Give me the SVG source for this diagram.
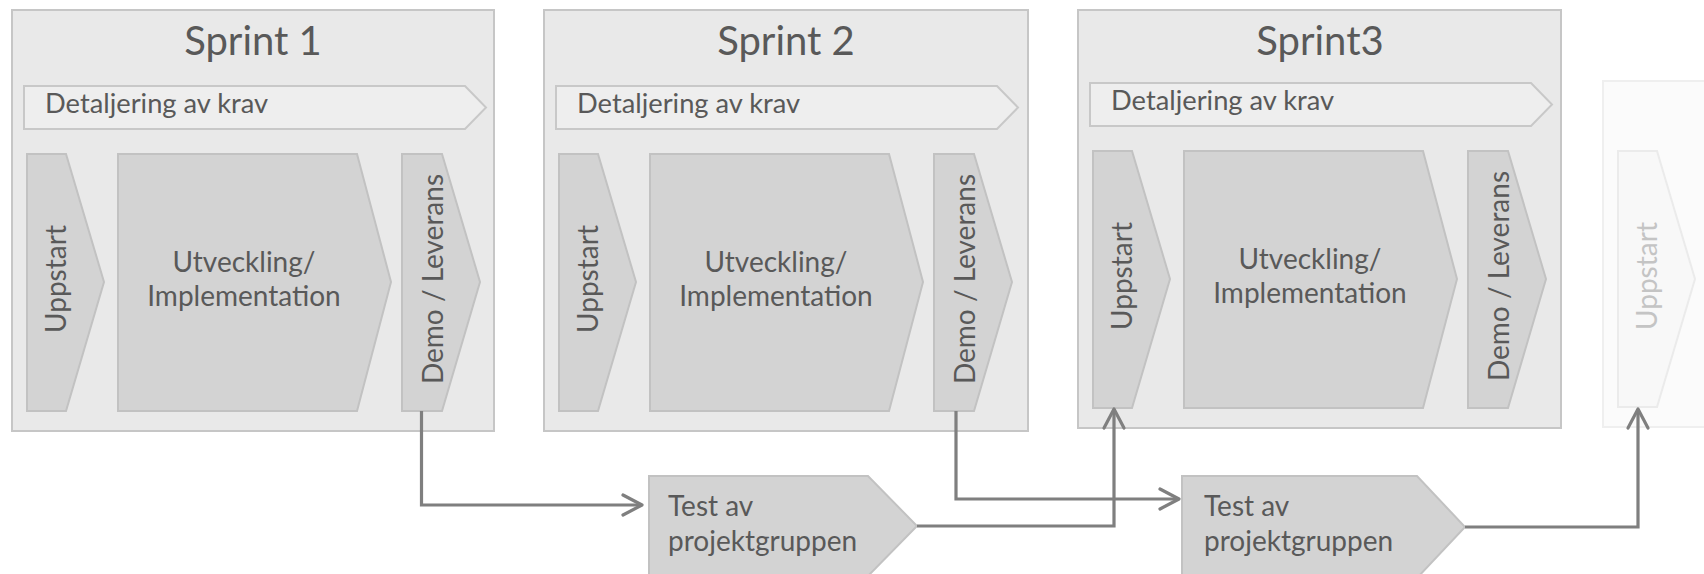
<svg xmlns="http://www.w3.org/2000/svg" width="1704" height="574" viewBox="0 0 1704 574">
<style>
.box{fill:#e9e9e9;stroke:#c6c6c6;stroke-width:2}
.req{fill:#eeeeee;stroke:#c8c8c8;stroke-width:2}
.chev{fill:#d3d3d3;stroke:#c2c2c2;stroke-width:2}
.fbox{fill:#fbfbfb;stroke:#efefef;stroke-width:2}
.fchev{fill:#f8f8f8;stroke:#ebebeb;stroke-width:2}
text{font-family:Lato,"Liberation Sans",sans-serif;fill:#595959;font-size:28px}
.title{font-size:40px;text-anchor:middle}
.reqt{font-size:27.3px}
.mid{text-anchor:middle}
.ftxt{fill:#c4c4c4}
.conn{fill:none;stroke:#7f7f7f;stroke-width:3.2;stroke-linejoin:miter}
</style>
<defs>
<marker id="arr" markerUnits="userSpaceOnUse" markerWidth="26" markerHeight="26" viewBox="0 0 26 26" refX="22" refY="13" orient="auto">
<path d="M3,3 L22,13 L3,23" fill="none" stroke="#7f7f7f" stroke-width="3.2" stroke-linecap="round" stroke-linejoin="round"/>
</marker>
<g id="inner">
<polygon class="req" points="24,86 465,86 486,107.5 465,129 24,129"/>
<text x="45" y="113" class="reqt">Detaljering av krav</text>
<polygon class="chev" points="27,154 66,154 104,282 66,411 27,411"/>
<text transform="translate(66,279) rotate(-90)" class="mid">Uppstart</text>
<polygon class="chev" points="118,154 357,154 391,282 357,411 118,411"/>
<text x="244" y="272" class="mid">Utveckling/</text>
<text x="244" y="306" class="mid">Implementation</text>
<polygon class="chev" points="402,154 442,154 480,282 442,411 402,411"/>
<text transform="translate(443,279) rotate(-90)" class="mid">Demo / Leverans</text>
</g>
</defs>

<g id="sprint1">
<rect class="box" x="12" y="10" width="482" height="421"/>
<text x="253" y="55" class="title">Sprint 1</text>
<use href="#inner"/>
</g>

<g id="sprint2">
<rect class="box" x="544" y="10" width="484" height="421"/>
<text x="786" y="55" class="title">Sprint 2</text>
<use href="#inner" transform="translate(532,0)"/>
</g>

<g id="sprint3">
<rect class="box" x="1078" y="10" width="483" height="418"/>
<text x="1320" y="55" class="title">Sprint3</text>
<use href="#inner" transform="translate(1066,-3)"/>
</g>

<g id="sprint4">
<rect class="fbox" x="1603" y="81" width="120" height="346"/>
<polygon class="fchev" points="1618,151 1657,151 1695,279 1657,407 1618,407"/>
<text transform="translate(1657,276) rotate(-90)" class="mid ftxt">Uppstart</text>
</g>

<g id="test1">
<polygon class="chev" points="649,476 868,476 917,526 868,576 649,576"/>
<text x="668" y="516">Test av</text>
<text x="668" y="551">projektgruppen</text>
</g>

<g id="test2">
<polygon class="chev" points="1182,476 1417,476 1465,527 1417,578 1182,578"/>
<text x="1204" y="516">Test av</text>
<text x="1204" y="551">projektgruppen</text>
</g>

<g id="connectors">
<path class="conn" d="M421.5,411 V505 H642" marker-end="url(#arr)"/>
<path class="conn" d="M917,526 H1114 V409" marker-end="url(#arr)"/>
<path class="conn" d="M956,411 V499 H1179" marker-end="url(#arr)"/>
<path class="conn" d="M1465,527 H1638 V409" marker-end="url(#arr)"/>
</g>
</svg>
